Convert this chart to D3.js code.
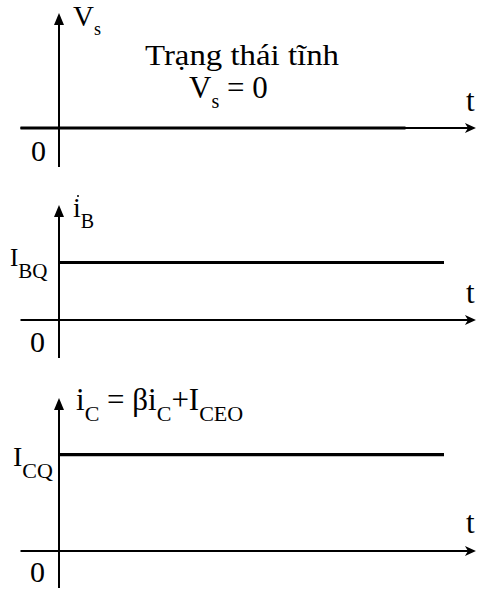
<!DOCTYPE html>
<html>
<head>
<meta charset="utf-8">
<script src="https://cdn.jsdelivr.net/npm/d3@7"></script>
<style>
  html, body { margin: 0; padding: 0; background: #fff; }
  svg { display: block; }
  text { font-family: "Liberation Serif", "DejaVu Serif", serif; fill: #000; }
</style>
</head>
<body>
<svg id="chart" width="477" height="590"></svg>
<script>
// ---- data ----
const panels = ["Vs", "iB", "iC"];
const quiescentLevels = [0, 0.5, 0.63];      // level relative to axis height
const signalEnds = [9, 10, 10];               // time at which drawn signal stops
const timeDomain = [-1, 10.83];
const yLabels = [
  [{t: "V"}, {t: "s", sub: true}],
  [{t: "i"}, {t: "B", sub: true}],
  [{t: "i"}, {t: "C", sub: true}, {t: " = βi"}, {t: "C", sub: true}, {t: "+I"}, {t: "CEO", sub: true}]
];
const levelLabels = [
  null,
  [{t: "I"}, {t: "BQ", sub: true}],
  [{t: "I"}, {t: "CQ", sub: true}]
];
const originLabel = "0";
const timeLabel = "t";
const titleLines = ["Trạng thái tĩnh"];
const titleEq = [{t: "V"}, {t: "s", sub: true}, {t: " = 0"}];

// ---- layout ----
const zeroY = [128, 320, 551];
const topY = [13, 205, 398];
const bottomY = [167, 358, 588];

const svg = d3.select("#chart");
const x = d3.scaleLinear().domain([0, 10]).range([59, 444]);

function richText(g, segs, px, py, size, subSize, subDy) {
  const t = g.append("text").attr("x", px).attr("y", py).attr("font-size", size);
  let prevSub = false;
  segs.forEach(s => {
    const ts = t.append("tspan").text(s.t);
    if (s.sub && !prevSub) ts.attr("dy", subDy).attr("font-size", subSize);
    else if (!s.sub && prevSub) ts.attr("dy", -subDy);
    else if (s.sub) ts.attr("font-size", subSize);
    prevSub = !!s.sub;
  });
  t.style("white-space", "pre");
  return t;
}

// [x, baseline, size, subSize, subDy]
const yLabelPos = [[73, 26, 29, 18, 9], [73, 217, 28, 20, 11], [76, 410, 31, 22, 11]];
const levelLabelPos = [null, [10, 266, 25, 21, 12], [13, 466, 28, 22, 12]];
const originPos = [[31, 161], [30, 352], [30, 582]];
const tPos = [[466, 111], [466, 303], [466, 533]];

panels.forEach((p, i) => {
  const g = svg.append("g").attr("class", "panel-" + p);
  const y = d3.scaleLinear().domain([0, 1]).range([zeroY[i], topY[i]]);

  // horizontal (time) axis
  g.append("line")
    .attr("x1", x(timeDomain[0])).attr("x2", x(timeDomain[1]) - 8)
    .attr("y1", y(0)).attr("y2", y(0))
    .attr("stroke", "#000").attr("stroke-width", 1.8);
  const tx = x(timeDomain[1]);
  g.append("path")
    .attr("d", `M${tx},${y(0)} L${tx - 11},${y(0) - 5} L${tx - 8},${y(0)} L${tx - 11},${y(0) + 5} Z`)
    .attr("fill", "#000");

  // vertical axis
  const ay = y(0) + (bottomY[i] - zeroY[i]);
  g.append("line")
    .attr("x1", x(0)).attr("x2", x(0))
    .attr("y1", ay).attr("y2", y(1) + 10)
    .attr("stroke", "#000").attr("stroke-width", 2);
  g.append("path")
    .attr("d", `M${x(0)},${y(1)} L${x(0) - 5},${y(1) + 12} L${x(0) + 5},${y(1) + 12} Z`)
    .attr("fill", "#000");

  // signal
  const start = i === 0 ? timeDomain[0] : 0;
  g.append("line")
    .attr("x1", x(start)).attr("x2", x(signalEnds[i]))
    .attr("y1", y(quiescentLevels[i])).attr("y2", y(quiescentLevels[i]))
    .attr("stroke", "#000").attr("stroke-width", 3.2);

  // labels
  const lp = yLabelPos[i];
  richText(g, yLabels[i], lp[0], lp[1], lp[2], lp[3], lp[4]);
  if (levelLabels[i]) {
    const q = levelLabelPos[i];
    richText(g, levelLabels[i], q[0], q[1], q[2], q[3], q[4]);
  }
  g.append("text").attr("x", originPos[i][0]).attr("y", originPos[i][1])
    .attr("font-size", 30).text(originLabel);
  g.append("text").attr("x", tPos[i][0]).attr("y", tPos[i][1])
    .attr("font-size", 31).text(timeLabel);
});

// title
svg.append("text").attr("x", 145).attr("y", 65).attr("font-size", 29)
  .attr("textLength", 194).attr("lengthAdjust", "spacingAndGlyphs")
  .text(titleLines[0]);
richText(svg, titleEq, 189, 98, 31, 20, 10);

// stray dot in the reference
svg.append("circle").attr("cx", 78).attr("cy", 196).attr("r", 1).attr("fill", "#000");
</script>
</body>
</html>
